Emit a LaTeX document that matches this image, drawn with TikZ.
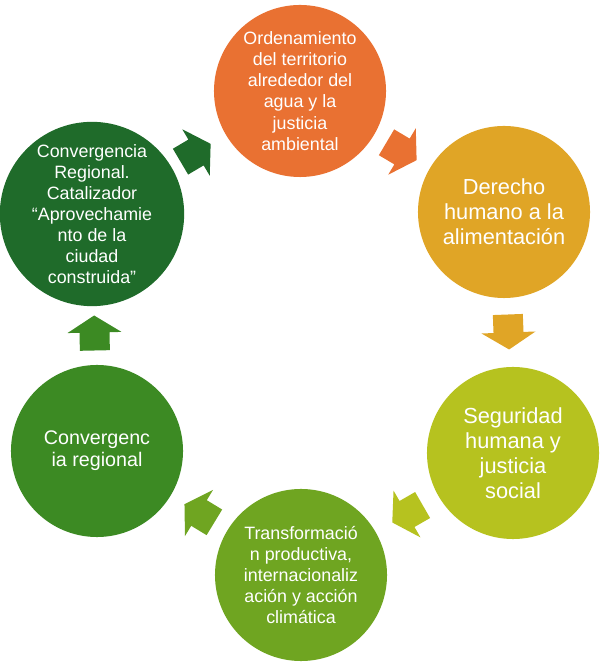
\documentclass[tikz,border=0pt]{standalone}
\usepackage{fontspec}
\setmainfont{Liberation Sans}
\usetikzlibrary{calc}

\definecolor{ordenC}{HTML}{E97132}
\definecolor{derechoC}{HTML}{E0A526}
\definecolor{seguridadC}{HTML}{B6C21F}
\definecolor{transfC}{HTML}{6FA521}
\definecolor{convC}{HTML}{3C8A23}
\definecolor{catalC}{HTML}{1F6B2A}

\tikzset{
  etapa/.style={circle, minimum size=4.3cm, inner sep=0pt, text=white, align=center},
  txtS/.style={font=\fontsize{12.7}{15}\selectfont},
  txtM/.style={font=\fontsize{14}{15.8}\selectfont},
  txtL/.style={font=\fontsize{15.5}{17.8}\selectfont},
  flecha/.pic={\fill[#1] (-18,-15) -- (0,-15) -- (0,-27) -- (17,0) -- (0,27) -- (0,15) -- (-18,15) -- cycle;}
}

% block arrow half way from #1 to #2, colour #3
\newcommand\ciclo[3]{\path let \p1=($(#2)-(#1)$), \n1={atan2(\y1,\x1)} in
  ($(#1)!0.5!(#2)$) pic[rotate=\n1] {flecha=#3};}

\begin{document}
\begin{tikzpicture}[x=0.025cm, y=0.025cm]
  \useasboundingbox (0,0) rectangle (600,662);

  \node[etapa, txtS, fill=ordenC] (orden) at (300,571)
    {Ordenamiento\\del territorio\\alrededor del\\agua y la\\justicia\\ambiental};
  \node[etapa, txtL, fill=derechoC] (derecho) at (504,450)
    {Derecho\\humano a la\\alimentación};
  \node[etapa, txtL, fill=seguridadC] (seguridad) at (513,209)
    {Seguridad\\humana y\\justicia\\social};
  \node[etapa, txtS, fill=transfC] (transf) at (301,87)
    {Transformació\\n productiva,\\internacionaliz\\ación y acción\\climática};
  \node[etapa, txtM, fill=convC] (conv) at (97,211)
    {Convergenc\\ia regional};
  \node[etapa, txtS, fill=catalC] (catal) at (92,448)
    {Convergencia\\Regional.\\Catalizador\\“Aprovechamie\\nto de la\\ciudad\\construida”};

  % arrows of the cycle
  \ciclo{orden}{derecho}{ordenC}
  \ciclo{derecho}{seguridad}{derechoC}
  \ciclo{seguridad}{transf}{seguridadC}
  \ciclo{transf}{conv}{transfC}
  \ciclo{conv}{catal}{convC}
  \ciclo{catal}{orden}{catalC}
\end{tikzpicture}
\end{document}
